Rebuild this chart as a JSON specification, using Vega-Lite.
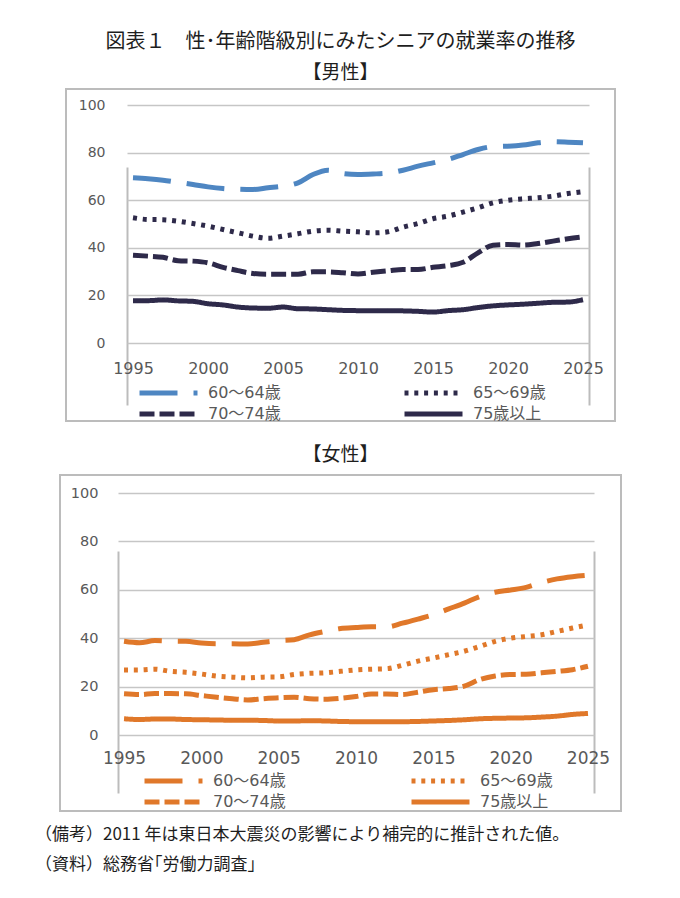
{
  "$schema": "https://vega.github.io/schema/vega-lite/v6.json",
  "padding": {"left": 35, "top": 31, "right": 4, "bottom": 4},
  "background": "white",
  "config": {
    "view": {"stroke": "#bcbcbc", "strokeWidth": 2},
    "font": "Noto Sans CJK JP",
    "title": {"font": "Noto Sans CJK JP", "fontWeight": "normal", "color": "#1e1e1e"},
    "axis": {
      "labelFont": "DejaVu Sans",
      "labelColor": "#595959",
      "ticks": false,
      "tickSize": 0,
      "domain": false,
      "title": null,
      "labelOverlap": false,
      "labelFlush": false
    },
    "legend": {
      "title": null,
      "orient": "none",
      "columns": 2,
      "symbolType": "stroke",
      "symbolSize": 3364,
      "symbolStrokeWidth": 5,
      "labelFont": "DejaVu Sans, Noto Sans CJK JP",
      "labelFontSize": 16,
      "labelColor": "#595959",
      "labelOffset": 8,
      "clipHeight": 20,
      "rowPadding": 1,
      "padding": 0,
      "symbolOffset": 0
    }
  },
  "title": {
    "text": ["（備考）2011 年は東日本大震災の影響により補完的に推計された値。", "（資料）総務省｢労働力調査｣"],
    "orient": "bottom",
    "anchor": "start",
    "fontSize": 17,
    "lineHeight": 30,
    "offset": 14,
    "dx": -24
  },
  "data": {
    "values": [
      {"sex": "男性", "age": "60～64歳", "year": 1995, "rate": 69.4},
      {"sex": "男性", "age": "60～64歳", "year": 1996, "rate": 69.0},
      {"sex": "男性", "age": "60～64歳", "year": 1997, "rate": 68.4},
      {"sex": "男性", "age": "60～64歳", "year": 1998, "rate": 67.5},
      {"sex": "男性", "age": "60～64歳", "year": 1999, "rate": 66.6},
      {"sex": "男性", "age": "60～64歳", "year": 2000, "rate": 65.6},
      {"sex": "男性", "age": "60～64歳", "year": 2001, "rate": 64.9},
      {"sex": "男性", "age": "60～64歳", "year": 2002, "rate": 64.6},
      {"sex": "男性", "age": "60～64歳", "year": 2003, "rate": 64.5},
      {"sex": "男性", "age": "60～64歳", "year": 2004, "rate": 65.2},
      {"sex": "男性", "age": "60～64歳", "year": 2005, "rate": 65.9},
      {"sex": "男性", "age": "60～64歳", "year": 2006, "rate": 67.3},
      {"sex": "男性", "age": "60～64歳", "year": 2007, "rate": 70.8},
      {"sex": "男性", "age": "60～64歳", "year": 2008, "rate": 72.6},
      {"sex": "男性", "age": "60～64歳", "year": 2009, "rate": 71.2},
      {"sex": "男性", "age": "60～64歳", "year": 2010, "rate": 70.8},
      {"sex": "男性", "age": "60～64歳", "year": 2011, "rate": 71.0},
      {"sex": "男性", "age": "60～64歳", "year": 2012, "rate": 71.4},
      {"sex": "男性", "age": "60～64歳", "year": 2013, "rate": 72.6},
      {"sex": "男性", "age": "60～64歳", "year": 2014, "rate": 74.3},
      {"sex": "男性", "age": "60～64歳", "year": 2015, "rate": 75.7},
      {"sex": "男性", "age": "60～64歳", "year": 2016, "rate": 77.1},
      {"sex": "男性", "age": "60～64歳", "year": 2017, "rate": 79.2},
      {"sex": "男性", "age": "60～64歳", "year": 2018, "rate": 81.3},
      {"sex": "男性", "age": "60～64歳", "year": 2019, "rate": 82.5},
      {"sex": "男性", "age": "60～64歳", "year": 2020, "rate": 82.7},
      {"sex": "男性", "age": "60～64歳", "year": 2021, "rate": 83.2},
      {"sex": "男性", "age": "60～64歳", "year": 2022, "rate": 84.1},
      {"sex": "男性", "age": "60～64歳", "year": 2023, "rate": 84.6},
      {"sex": "男性", "age": "60～64歳", "year": 2024, "rate": 84.4},
      {"sex": "男性", "age": "60～64歳", "year": 2025, "rate": 84.1},
      {"sex": "男性", "age": "65～69歳", "year": 1995, "rate": 52.6},
      {"sex": "男性", "age": "65～69歳", "year": 1996, "rate": 51.9},
      {"sex": "男性", "age": "65～69歳", "year": 1997, "rate": 51.8},
      {"sex": "男性", "age": "65～69歳", "year": 1998, "rate": 51.2},
      {"sex": "男性", "age": "65～69歳", "year": 1999, "rate": 50.2},
      {"sex": "男性", "age": "65～69歳", "year": 2000, "rate": 49.1},
      {"sex": "男性", "age": "65～69歳", "year": 2001, "rate": 47.7},
      {"sex": "男性", "age": "65～69歳", "year": 2002, "rate": 46.3},
      {"sex": "男性", "age": "65～69歳", "year": 2003, "rate": 44.9},
      {"sex": "男性", "age": "65～69歳", "year": 2004, "rate": 44.0},
      {"sex": "男性", "age": "65～69歳", "year": 2005, "rate": 44.9},
      {"sex": "男性", "age": "65～69歳", "year": 2006, "rate": 45.9},
      {"sex": "男性", "age": "65～69歳", "year": 2007, "rate": 47.0},
      {"sex": "男性", "age": "65～69歳", "year": 2008, "rate": 47.4},
      {"sex": "男性", "age": "65～69歳", "year": 2009, "rate": 47.0},
      {"sex": "男性", "age": "65～69歳", "year": 2010, "rate": 46.7},
      {"sex": "男性", "age": "65～69歳", "year": 2011, "rate": 46.3},
      {"sex": "男性", "age": "65～69歳", "year": 2012, "rate": 46.7},
      {"sex": "男性", "age": "65～69歳", "year": 2013, "rate": 48.7},
      {"sex": "男性", "age": "65～69歳", "year": 2014, "rate": 50.2},
      {"sex": "男性", "age": "65～69歳", "year": 2015, "rate": 52.2},
      {"sex": "男性", "age": "65～69歳", "year": 2016, "rate": 53.3},
      {"sex": "男性", "age": "65～69歳", "year": 2017, "rate": 55.0},
      {"sex": "男性", "age": "65～69歳", "year": 2018, "rate": 56.8},
      {"sex": "男性", "age": "65～69歳", "year": 2019, "rate": 58.9},
      {"sex": "男性", "age": "65～69歳", "year": 2020, "rate": 60.0},
      {"sex": "男性", "age": "65～69歳", "year": 2021, "rate": 60.6},
      {"sex": "男性", "age": "65～69歳", "year": 2022, "rate": 61.0},
      {"sex": "男性", "age": "65～69歳", "year": 2023, "rate": 61.7},
      {"sex": "男性", "age": "65～69歳", "year": 2024, "rate": 62.8},
      {"sex": "男性", "age": "65～69歳", "year": 2025, "rate": 63.6},
      {"sex": "男性", "age": "70～74歳", "year": 1995, "rate": 36.9},
      {"sex": "男性", "age": "70～74歳", "year": 1996, "rate": 36.5},
      {"sex": "男性", "age": "70～74歳", "year": 1997, "rate": 36.0},
      {"sex": "男性", "age": "70～74歳", "year": 1998, "rate": 34.6},
      {"sex": "男性", "age": "70～74歳", "year": 1999, "rate": 34.4},
      {"sex": "男性", "age": "70～74歳", "year": 2000, "rate": 33.7},
      {"sex": "男性", "age": "70～74歳", "year": 2001, "rate": 31.8},
      {"sex": "男性", "age": "70～74歳", "year": 2002, "rate": 30.4},
      {"sex": "男性", "age": "70～74歳", "year": 2003, "rate": 29.2},
      {"sex": "男性", "age": "70～74歳", "year": 2004, "rate": 28.9},
      {"sex": "男性", "age": "70～74歳", "year": 2005, "rate": 28.9},
      {"sex": "男性", "age": "70～74歳", "year": 2006, "rate": 28.9},
      {"sex": "男性", "age": "70～74歳", "year": 2007, "rate": 29.9},
      {"sex": "男性", "age": "70～74歳", "year": 2008, "rate": 29.9},
      {"sex": "男性", "age": "70～74歳", "year": 2009, "rate": 29.5},
      {"sex": "男性", "age": "70～74歳", "year": 2010, "rate": 29.0},
      {"sex": "男性", "age": "70～74歳", "year": 2011, "rate": 29.7},
      {"sex": "男性", "age": "70～74歳", "year": 2012, "rate": 30.3},
      {"sex": "男性", "age": "70～74歳", "year": 2013, "rate": 30.9},
      {"sex": "男性", "age": "70～74歳", "year": 2014, "rate": 30.9},
      {"sex": "男性", "age": "70～74歳", "year": 2015, "rate": 31.8},
      {"sex": "男性", "age": "70～74歳", "year": 2016, "rate": 32.5},
      {"sex": "男性", "age": "70～74歳", "year": 2017, "rate": 33.9},
      {"sex": "男性", "age": "70～74歳", "year": 2018, "rate": 37.9},
      {"sex": "男性", "age": "70～74歳", "year": 2019, "rate": 41.1},
      {"sex": "男性", "age": "70～74歳", "year": 2020, "rate": 41.4},
      {"sex": "男性", "age": "70～74歳", "year": 2021, "rate": 41.1},
      {"sex": "男性", "age": "70～74歳", "year": 2022, "rate": 41.8},
      {"sex": "男性", "age": "70～74歳", "year": 2023, "rate": 42.8},
      {"sex": "男性", "age": "70～74歳", "year": 2024, "rate": 43.8},
      {"sex": "男性", "age": "70～74歳", "year": 2025, "rate": 44.6},
      {"sex": "男性", "age": "75歳以上", "year": 1995, "rate": 17.8},
      {"sex": "男性", "age": "75歳以上", "year": 1996, "rate": 17.8},
      {"sex": "男性", "age": "75歳以上", "year": 1997, "rate": 18.1},
      {"sex": "男性", "age": "75歳以上", "year": 1998, "rate": 17.7},
      {"sex": "男性", "age": "75歳以上", "year": 1999, "rate": 17.5},
      {"sex": "男性", "age": "75歳以上", "year": 2000, "rate": 16.5},
      {"sex": "男性", "age": "75歳以上", "year": 2001, "rate": 16.0},
      {"sex": "男性", "age": "75歳以上", "year": 2002, "rate": 15.1},
      {"sex": "男性", "age": "75歳以上", "year": 2003, "rate": 14.7},
      {"sex": "男性", "age": "75歳以上", "year": 2004, "rate": 14.6},
      {"sex": "男性", "age": "75歳以上", "year": 2005, "rate": 15.1},
      {"sex": "男性", "age": "75歳以上", "year": 2006, "rate": 14.4},
      {"sex": "男性", "age": "75歳以上", "year": 2007, "rate": 14.3},
      {"sex": "男性", "age": "75歳以上", "year": 2008, "rate": 14.0},
      {"sex": "男性", "age": "75歳以上", "year": 2009, "rate": 13.7},
      {"sex": "男性", "age": "75歳以上", "year": 2010, "rate": 13.6},
      {"sex": "男性", "age": "75歳以上", "year": 2011, "rate": 13.6},
      {"sex": "男性", "age": "75歳以上", "year": 2012, "rate": 13.6},
      {"sex": "男性", "age": "75歳以上", "year": 2013, "rate": 13.5},
      {"sex": "男性", "age": "75歳以上", "year": 2014, "rate": 13.3},
      {"sex": "男性", "age": "75歳以上", "year": 2015, "rate": 13.0},
      {"sex": "男性", "age": "75歳以上", "year": 2016, "rate": 13.6},
      {"sex": "男性", "age": "75歳以上", "year": 2017, "rate": 14.0},
      {"sex": "男性", "age": "75歳以上", "year": 2018, "rate": 14.9},
      {"sex": "男性", "age": "75歳以上", "year": 2019, "rate": 15.6},
      {"sex": "男性", "age": "75歳以上", "year": 2020, "rate": 16.0},
      {"sex": "男性", "age": "75歳以上", "year": 2021, "rate": 16.3},
      {"sex": "男性", "age": "75歳以上", "year": 2022, "rate": 16.7},
      {"sex": "男性", "age": "75歳以上", "year": 2023, "rate": 17.1},
      {"sex": "男性", "age": "75歳以上", "year": 2024, "rate": 17.2},
      {"sex": "男性", "age": "75歳以上", "year": 2025, "rate": 18.2},
      {"sex": "女性", "age": "60～64歳", "year": 1995, "rate": 38.7},
      {"sex": "女性", "age": "60～64歳", "year": 1996, "rate": 38.1},
      {"sex": "女性", "age": "60～64歳", "year": 1997, "rate": 39.0},
      {"sex": "女性", "age": "60～64歳", "year": 1998, "rate": 38.8},
      {"sex": "女性", "age": "60～64歳", "year": 1999, "rate": 38.7},
      {"sex": "女性", "age": "60～64歳", "year": 2000, "rate": 38.0},
      {"sex": "女性", "age": "60～64歳", "year": 2001, "rate": 37.7},
      {"sex": "女性", "age": "60～64歳", "year": 2002, "rate": 37.7},
      {"sex": "女性", "age": "60～64歳", "year": 2003, "rate": 37.6},
      {"sex": "女性", "age": "60～64歳", "year": 2004, "rate": 38.3},
      {"sex": "女性", "age": "60～64歳", "year": 2005, "rate": 39.0},
      {"sex": "女性", "age": "60～64歳", "year": 2006, "rate": 39.4},
      {"sex": "女性", "age": "60～64歳", "year": 2007, "rate": 41.4},
      {"sex": "女性", "age": "60～64歳", "year": 2008, "rate": 42.8},
      {"sex": "女性", "age": "60～64歳", "year": 2009, "rate": 44.0},
      {"sex": "女性", "age": "60～64歳", "year": 2010, "rate": 44.4},
      {"sex": "女性", "age": "60～64歳", "year": 2011, "rate": 44.7},
      {"sex": "女性", "age": "60～64歳", "year": 2012, "rate": 44.7},
      {"sex": "女性", "age": "60～64歳", "year": 2013, "rate": 46.2},
      {"sex": "女性", "age": "60～64歳", "year": 2014, "rate": 47.9},
      {"sex": "女性", "age": "60～64歳", "year": 2015, "rate": 49.7},
      {"sex": "女性", "age": "60～64歳", "year": 2016, "rate": 52.1},
      {"sex": "女性", "age": "60～64歳", "year": 2017, "rate": 54.5},
      {"sex": "女性", "age": "60～64歳", "year": 2018, "rate": 57.2},
      {"sex": "女性", "age": "60～64歳", "year": 2019, "rate": 59.0},
      {"sex": "女性", "age": "60～64歳", "year": 2020, "rate": 59.9},
      {"sex": "女性", "age": "60～64歳", "year": 2021, "rate": 61.0},
      {"sex": "女性", "age": "60～64歳", "year": 2022, "rate": 63.0},
      {"sex": "女性", "age": "60～64歳", "year": 2023, "rate": 64.5},
      {"sex": "女性", "age": "60～64歳", "year": 2024, "rate": 65.4},
      {"sex": "女性", "age": "60～64歳", "year": 2025, "rate": 66.0},
      {"sex": "女性", "age": "65～69歳", "year": 1995, "rate": 26.9},
      {"sex": "女性", "age": "65～69歳", "year": 1996, "rate": 26.9},
      {"sex": "女性", "age": "65～69歳", "year": 1997, "rate": 27.2},
      {"sex": "女性", "age": "65～69歳", "year": 1998, "rate": 26.3},
      {"sex": "女性", "age": "65～69歳", "year": 1999, "rate": 25.9},
      {"sex": "女性", "age": "65～69歳", "year": 2000, "rate": 25.2},
      {"sex": "女性", "age": "65～69歳", "year": 2001, "rate": 24.3},
      {"sex": "女性", "age": "65～69歳", "year": 2002, "rate": 23.9},
      {"sex": "女性", "age": "65～69歳", "year": 2003, "rate": 23.6},
      {"sex": "女性", "age": "65～69歳", "year": 2004, "rate": 23.9},
      {"sex": "女性", "age": "65～69歳", "year": 2005, "rate": 24.0},
      {"sex": "女性", "age": "65～69歳", "year": 2006, "rate": 25.0},
      {"sex": "女性", "age": "65～69歳", "year": 2007, "rate": 25.5},
      {"sex": "女性", "age": "65～69歳", "year": 2008, "rate": 25.7},
      {"sex": "女性", "age": "65～69歳", "year": 2009, "rate": 26.3},
      {"sex": "女性", "age": "65～69歳", "year": 2010, "rate": 26.9},
      {"sex": "女性", "age": "65～69歳", "year": 2011, "rate": 27.2},
      {"sex": "女性", "age": "65～69歳", "year": 2012, "rate": 27.4},
      {"sex": "女性", "age": "65～69歳", "year": 2013, "rate": 28.8},
      {"sex": "女性", "age": "65～69歳", "year": 2014, "rate": 30.5},
      {"sex": "女性", "age": "65～69歳", "year": 2015, "rate": 31.8},
      {"sex": "女性", "age": "65～69歳", "year": 2016, "rate": 33.2},
      {"sex": "女性", "age": "65～69歳", "year": 2017, "rate": 34.6},
      {"sex": "女性", "age": "65～69歳", "year": 2018, "rate": 36.6},
      {"sex": "女性", "age": "65～69歳", "year": 2019, "rate": 38.7},
      {"sex": "女性", "age": "65～69歳", "year": 2020, "rate": 40.0},
      {"sex": "女性", "age": "65～69歳", "year": 2021, "rate": 40.7},
      {"sex": "女性", "age": "65～69歳", "year": 2022, "rate": 41.4},
      {"sex": "女性", "age": "65～69歳", "year": 2023, "rate": 42.8},
      {"sex": "女性", "age": "65～69歳", "year": 2024, "rate": 44.2},
      {"sex": "女性", "age": "65～69歳", "year": 2025, "rate": 45.5},
      {"sex": "女性", "age": "70～74歳", "year": 1995, "rate": 17.0},
      {"sex": "女性", "age": "70～74歳", "year": 1996, "rate": 16.7},
      {"sex": "女性", "age": "70～74歳", "year": 1997, "rate": 17.1},
      {"sex": "女性", "age": "70～74歳", "year": 1998, "rate": 17.1},
      {"sex": "女性", "age": "70～74歳", "year": 1999, "rate": 17.0},
      {"sex": "女性", "age": "70～74歳", "year": 2000, "rate": 16.3},
      {"sex": "女性", "age": "70～74歳", "year": 2001, "rate": 15.6},
      {"sex": "女性", "age": "70～74歳", "year": 2002, "rate": 15.0},
      {"sex": "女性", "age": "70～74歳", "year": 2003, "rate": 14.5},
      {"sex": "女性", "age": "70～74歳", "year": 2004, "rate": 15.0},
      {"sex": "女性", "age": "70～74歳", "year": 2005, "rate": 15.4},
      {"sex": "女性", "age": "70～74歳", "year": 2006, "rate": 15.6},
      {"sex": "女性", "age": "70～74歳", "year": 2007, "rate": 15.0},
      {"sex": "女性", "age": "70～74歳", "year": 2008, "rate": 14.8},
      {"sex": "女性", "age": "70～74歳", "year": 2009, "rate": 15.2},
      {"sex": "女性", "age": "70～74歳", "year": 2010, "rate": 15.9},
      {"sex": "女性", "age": "70～74歳", "year": 2011, "rate": 16.9},
      {"sex": "女性", "age": "70～74歳", "year": 2012, "rate": 16.9},
      {"sex": "女性", "age": "70～74歳", "year": 2013, "rate": 16.7},
      {"sex": "女性", "age": "70～74歳", "year": 2014, "rate": 17.7},
      {"sex": "女性", "age": "70～74歳", "year": 2015, "rate": 18.7},
      {"sex": "女性", "age": "70～74歳", "year": 2016, "rate": 19.2},
      {"sex": "女性", "age": "70～74歳", "year": 2017, "rate": 20.2},
      {"sex": "女性", "age": "70～74歳", "year": 2018, "rate": 22.9},
      {"sex": "女性", "age": "70～74歳", "year": 2019, "rate": 24.4},
      {"sex": "女性", "age": "70～74歳", "year": 2020, "rate": 25.0},
      {"sex": "女性", "age": "70～74歳", "year": 2021, "rate": 25.1},
      {"sex": "女性", "age": "70～74歳", "year": 2022, "rate": 25.7},
      {"sex": "女性", "age": "70～74歳", "year": 2023, "rate": 26.3},
      {"sex": "女性", "age": "70～74歳", "year": 2024, "rate": 27.0},
      {"sex": "女性", "age": "70～74歳", "year": 2025, "rate": 28.4},
      {"sex": "女性", "age": "75歳以上", "year": 1995, "rate": 6.7},
      {"sex": "女性", "age": "75歳以上", "year": 1996, "rate": 6.4},
      {"sex": "女性", "age": "75歳以上", "year": 1997, "rate": 6.6},
      {"sex": "女性", "age": "75歳以上", "year": 1998, "rate": 6.6},
      {"sex": "女性", "age": "75歳以上", "year": 1999, "rate": 6.4},
      {"sex": "女性", "age": "75歳以上", "year": 2000, "rate": 6.3},
      {"sex": "女性", "age": "75歳以上", "year": 2001, "rate": 6.2},
      {"sex": "女性", "age": "75歳以上", "year": 2002, "rate": 6.1},
      {"sex": "女性", "age": "75歳以上", "year": 2003, "rate": 6.1},
      {"sex": "女性", "age": "75歳以上", "year": 2004, "rate": 6.0},
      {"sex": "女性", "age": "75歳以上", "year": 2005, "rate": 5.8},
      {"sex": "女性", "age": "75歳以上", "year": 2006, "rate": 5.8},
      {"sex": "女性", "age": "75歳以上", "year": 2007, "rate": 5.9},
      {"sex": "女性", "age": "75歳以上", "year": 2008, "rate": 5.8},
      {"sex": "女性", "age": "75歳以上", "year": 2009, "rate": 5.6},
      {"sex": "女性", "age": "75歳以上", "year": 2010, "rate": 5.5},
      {"sex": "女性", "age": "75歳以上", "year": 2011, "rate": 5.5},
      {"sex": "女性", "age": "75歳以上", "year": 2012, "rate": 5.5},
      {"sex": "女性", "age": "75歳以上", "year": 2013, "rate": 5.5},
      {"sex": "女性", "age": "75歳以上", "year": 2014, "rate": 5.6},
      {"sex": "女性", "age": "75歳以上", "year": 2015, "rate": 5.8},
      {"sex": "女性", "age": "75歳以上", "year": 2016, "rate": 6.0},
      {"sex": "女性", "age": "75歳以上", "year": 2017, "rate": 6.3},
      {"sex": "女性", "age": "75歳以上", "year": 2018, "rate": 6.7},
      {"sex": "女性", "age": "75歳以上", "year": 2019, "rate": 6.9},
      {"sex": "女性", "age": "75歳以上", "year": 2020, "rate": 7.0},
      {"sex": "女性", "age": "75歳以上", "year": 2021, "rate": 7.1},
      {"sex": "女性", "age": "75歳以上", "year": 2022, "rate": 7.4},
      {"sex": "女性", "age": "75歳以上", "year": 2023, "rate": 7.8},
      {"sex": "女性", "age": "75歳以上", "year": 2024, "rate": 8.5},
      {"sex": "女性", "age": "75歳以上", "year": 2025, "rate": 8.9}
    ]
  },
  "vconcat": [
    {
      "width": 549,
      "height": 332,
      "title": {
        "text": "図表１　性･年齢階級別にみたシニアの就業率の推移",
        "subtitle": "【男性】",
        "fontSize": 20,
        "subtitleFontSize": 19,
        "subtitleFont": "Noto Sans CJK JP",
        "subtitleColor": "#1e1e1e",
        "subtitlePadding": 12,
        "anchor": "middle",
        "offset": 6
      },
      "transform": [{"filter": "datum.sex == '男性'"}],
      "mark": {"type": "line", "interpolate": "monotone", "strokeWidth": 5},
      "encoding": {
        "x": {
          "field": "year",
          "type": "quantitative",
          "scale": {"domain": [1994.6, 2025.4], "range": [61, 523], "nice": false, "zero": false},
          "axis": {
            "values": [1994.6, 1995, 2000, 2005, 2010, 2015, 2020, 2025, 2025.4],
            "labelExpr": "datum.value < 1995 || datum.value > 2025 ? '' : format(datum.value, 'd')",
            "offset": -78,
            "labelPadding": 17,
            "labelFontSize": 16,
            "grid": true,
            "gridColor": "#bcbcbc",
            "gridWidth": 2,
            "gridOpacity": {"condition": {"test": "datum.value < 1995 || datum.value > 2025", "value": 1}, "value": 0}
          }
        },
        "y": {
          "field": "rate",
          "type": "quantitative",
          "scale": {"domain": [0, 100], "range": [254, 16], "nice": false},
          "axis": {
            "values": [0, 20, 40, 60, 80, 100],
            "offset": -61,
            "labelPadding": 22,
            "labelFontSize": 14,
            "grid": true,
            "gridColor": "#c6c6c6",
            "gridWidth": 1.6
          }
        },
        "color": {
          "field": "age",
          "type": "nominal",
          "scale": {"domain": ["60～64歳", "70～74歳", "65～69歳", "75歳以上"], "range": ["#4e86c2", "#2e2a4a", "#2e2a4a", "#2e2a4a"]},
          "legend": {"legendX": 71, "legendY": 294, "columnPadding": 121}
        },
        "strokeDash": {
          "field": "age",
          "type": "nominal",
          "scale": {"domain": ["60～64歳", "70～74歳", "65～69歳", "75歳以上"], "range": [[38, 16], [15, 5], [4, 5.8], [1, 0]]},
          "legend": {"legendX": 71, "legendY": 294, "columnPadding": 121}
        }
      }
    },
    {
      "width": 561,
      "height": 336,
      "title": {
        "text": "【女性】",
        "fontSize": 19,
        "anchor": "middle",
        "offset": 10
      },
      "transform": [{"filter": "datum.sex == '女性'"}],
      "mark": {"type": "line", "interpolate": "monotone", "strokeWidth": 5},
      "encoding": {
        "x": {
          "field": "year",
          "type": "quantitative",
          "scale": {"domain": [1994.61, 2025.39], "range": [58, 534], "nice": false, "zero": false},
          "axis": {
            "values": [1994.61, 1995, 2000, 2005, 2010, 2015, 2020, 2025, 2025.39],
            "labelExpr": "datum.value < 1995 || datum.value > 2025 ? '' : format(datum.value, 'd')",
            "offset": -76,
            "labelPadding": 15,
            "labelFontSize": 17,
            "grid": true,
            "gridColor": "#bcbcbc",
            "gridWidth": 2,
            "gridOpacity": {"condition": {"test": "datum.value < 1995 || datum.value > 2025", "value": 1}, "value": 0}
          }
        },
        "y": {
          "field": "rate",
          "type": "quantitative",
          "scale": {"domain": [0, 100], "range": [260, 18], "nice": false},
          "axis": {
            "values": [0, 20, 40, 60, 80, 100],
            "offset": -58,
            "labelPadding": 20,
            "labelFontSize": 14.5,
            "grid": true,
            "gridColor": "#c6c6c6",
            "gridWidth": 1.6
          }
        },
        "color": {
          "field": "age",
          "type": "nominal",
          "scale": {"domain": ["60～64歳", "70～74歳", "65～69歳", "75歳以上"], "range": ["#e0782a", "#e0782a", "#e0782a", "#e0782a"]},
          "legend": {"legendX": 82, "legendY": 296, "columnPadding": 123}
        },
        "strokeDash": {
          "field": "age",
          "type": "nominal",
          "scale": {"domain": ["60～64歳", "70～74歳", "65～69歳", "75歳以上"], "range": [[38, 16], [15, 5], [4, 5.8], [1, 0]]},
          "legend": {"legendX": 82, "legendY": 296, "columnPadding": 123}
        }
      }
    }
  ],
  "center": true,
  "spacing": 20,
  "resolve": {"scale": {"color": "independent", "x": "independent", "y": "independent", "strokeDash": "independent"}}
}
